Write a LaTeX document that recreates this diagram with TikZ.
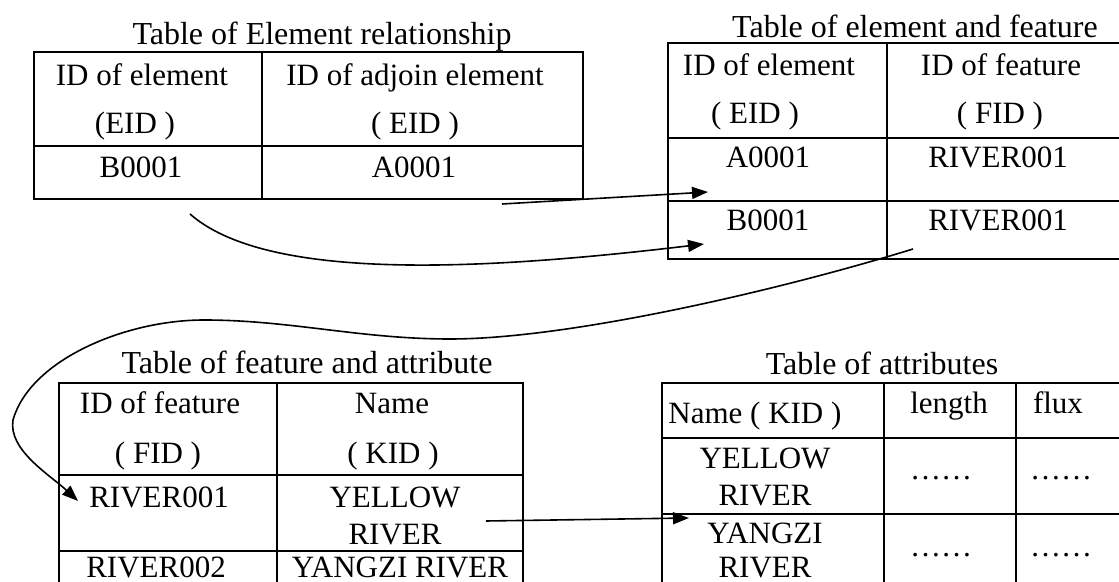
\documentclass[tikz,border=0pt]{standalone}
\usepackage{fontspec}
\setmainfont{Liberation Serif}
\usetikzlibrary{arrows.meta}

\tikzset{
  tbl/.style={line width=1pt},
  lbl/.style={inner sep=0pt,text height=11pt,text depth=0pt,font=\fontsize{15.5}{18}\selectfont},
  ttl/.style={lbl,font=\fontsize{16}{19}\selectfont},
  arr/.style={line width=0.8pt,-{Triangle[length=8pt,width=6pt]}}
}

\begin{document}
\begin{tikzpicture}[x=0.5pt,y=-0.5pt]
  \useasboundingbox (0,0) rectangle (1119,582);
  \clip (0,0) rectangle (1119,582);

  % table of element relationship
  \node[ttl] (ttlA) at (322,34) {Table of Element relationship};
  \draw[tbl] (34,52) rectangle (583,199) (262,52)--(262,199) (34,146)--(583,146);
  \node[lbl] (ea1) at (142,75) {ID of element};
  \node[lbl] (ea2) at (135,123) {(EID )};
  \node[lbl] (ja1) at (415,75) {ID of adjoin element};
  \node[lbl] (ja2) at (415,123) {( EID )};
  \node[lbl] (eaB) at (141,167) {B0001};
  \node[lbl] (jaA) at (414,167) {A0001};

  % table of element and feature
  \node[ttl] (ttlB) at (915,27) {Table of element and feature};
  \draw[tbl] (1125,43)--(668,43)--(668,259)--(1125,259) (887,43)--(887,259)
    (668,138)--(1125,138) (668,201)--(1125,201);
  \node[lbl] (eb1) at (769,65) {ID of element};
  \node[lbl] (eb2) at (755,113) {( EID )};
  \node[lbl] (fb1) at (1001,65) {ID of feature};
  \node[lbl] (fb2) at (1000,113) {( FID )};
  \node[lbl] (ebA) at (768,157) {A0001};
  \node[lbl] (fbA) at (998,157) {RIVER001};
  \node[lbl] (ebB) at (768,220) {B0001};
  \node[lbl] (fbB) at (998,220) {RIVER001};

  % table of feature and attribute
  \node[ttl] (ttlC) at (307,363) {Table of feature and attribute};
  \draw[tbl] (59,590)--(59,383)--(523,383)--(523,590) (277,383)--(277,590)
    (59,475)--(523,475) (59,551)--(523,551);
  \node[lbl] (fc1) at (160,403) {ID of feature};
  \node[lbl] (fc2) at (158,453) {( FID )};
  \node[lbl] (kc1) at (392,403) {Name};
  \node[lbl] (kc2) at (393,453) {( KID )};
  \node[lbl] (fc3) at (159,497) {RIVER001};
  \node[lbl] (kc3) at (395,497) {YELLOW};
  \node[lbl] (kc4) at (395,533) {RIVER};
  \node[lbl] (fc5) at (156,566) {RIVER002};
  \node[lbl] (kc5) at (400,566) {YANGZI RIVER};

  % table of attributes
  \node[ttl] (ttlD) at (882,364) {Table of attributes};
  \draw[tbl] (662,590)--(662,383)--(1125,383) (884,383)--(884,590) (1016,383)--(1016,590)
    (662,438)--(1125,438) (662,514)--(1125,514);
  \node[lbl,anchor=west] (kd1) at (668,413) {Name ( KID )};
  \node[lbl] (ld1) at (949,403) {length};
  \node[lbl] (xd1) at (1058,403) {flux};
  \node[lbl] (kd2) at (765,458) {YELLOW};
  \node[lbl] (kd3) at (765,494) {RIVER};
  \node[lbl,anchor=base] (ld2) at (941,480) {……};
  \node[lbl,anchor=base] (xd2) at (1061,480) {……};
  \node[lbl] (kd4) at (765,532) {YANGZI};
  \node[lbl] (kd5) at (765,566) {RIVER};
  \node[lbl,anchor=base] (ld3) at (941,556) {……};
  \node[lbl,anchor=base] (xd3) at (1061,556) {……};

  % links
  \coordinate (aS) at (502,204);
  \coordinate (aE) at (708,192);
  \coordinate (bS) at (190,214);
  \coordinate (bE) at (704,244);
  \coordinate (cS) at (913,249);
  \coordinate (cE) at (78,501);
  \coordinate (dS) at (486,521);
  \coordinate (dE) at (689,518);
  \draw[arr] (aS)--(aE);
  \draw[arr] (bS) .. controls (265,280) and (470,272) .. (bE);
  \draw[arr] (cS) .. controls (780,290) and (570,339) .. (450,339)
    .. controls (360,339) and (290,320) .. (204,320)
    .. controls (125,320) and (30,360) .. (13,420)
    .. controls (8,450) and (50,475) .. (cE);
  \draw[arr] (dS)--(dE);
\end{tikzpicture}
\end{document}
